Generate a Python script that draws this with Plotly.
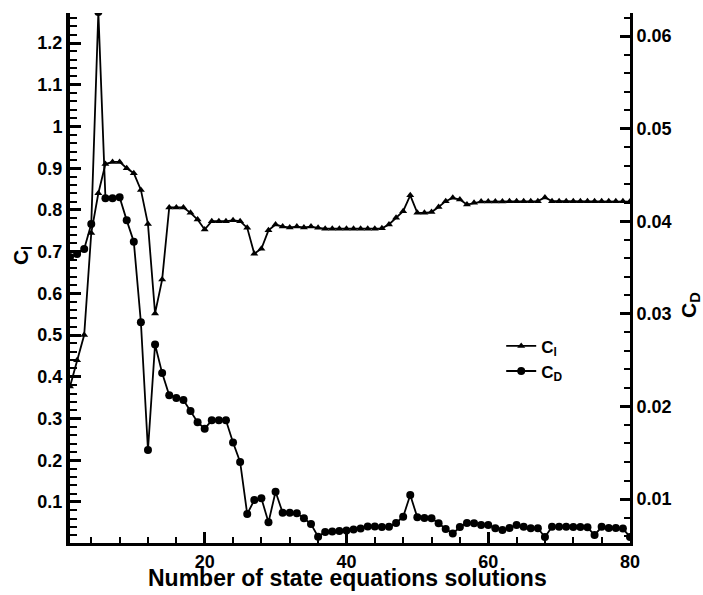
import plotly.graph_objects as go

# ---------------- data ----------------
iterations = list(range(1, 81))

cl_values = [
    0.377, 0.44, 0.50, 0.745, 0.84, 0.91, 0.915, 0.915, 0.90, 0.888,
    0.848, 0.766, 0.552, 0.633, 0.806, 0.806, 0.806, 0.793, 0.777, 0.753,
    0.773, 0.773, 0.773, 0.775, 0.773, 0.757, 0.695, 0.707, 0.751, 0.765,
    0.760, 0.758, 0.760, 0.758, 0.760, 0.757, 0.755, 0.755, 0.755, 0.755,
    0.755, 0.755, 0.755, 0.755, 0.756, 0.765, 0.781, 0.797, 0.835, 0.793,
    0.793, 0.795, 0.807, 0.821, 0.829, 0.825, 0.813, 0.817, 0.820, 0.820,
    0.820, 0.820, 0.821, 0.821, 0.821, 0.821, 0.821, 0.830, 0.821, 0.821,
    0.821, 0.821, 0.821, 0.821, 0.821, 0.821, 0.821, 0.821, 0.821, 0.820,
]

cd_values = [
    0.03613, 0.03646, 0.03700, 0.03970, 0.06260, 0.04250, 0.04250, 0.04260, 0.04010, 0.03780,
    0.02910, 0.01530, 0.02670, 0.02360, 0.02120, 0.02090, 0.02070, 0.01950, 0.01830, 0.01760,
    0.01850, 0.01850, 0.01850, 0.01610, 0.01400, 0.00838, 0.00989, 0.01008, 0.00748, 0.01079,
    0.00852, 0.00852, 0.00846, 0.00792, 0.00730, 0.00593, 0.00644, 0.00650, 0.00654, 0.00660,
    0.00670, 0.00681, 0.00703, 0.00703, 0.00698, 0.00700, 0.00741, 0.00809, 0.01043, 0.00802,
    0.00795, 0.00792, 0.00738, 0.00676, 0.00627, 0.00698, 0.00741, 0.00738, 0.00720, 0.00720,
    0.00684, 0.00665, 0.00687, 0.00720, 0.00700, 0.00684, 0.00684, 0.00590, 0.00700, 0.00700,
    0.00700, 0.00698, 0.00698, 0.00694, 0.00611, 0.00700, 0.00687, 0.00687, 0.00681, 0.00590,
]

x_title = "Number of state equations solutions"
cl_name = "C<sub>l</sub>"
cd_name = "C<sub>D</sub>"

# ---------------- figure ----------------
FONT = "Liberation Sans"

fig = go.Figure()
fig.add_trace(go.Scatter(
    x=iterations, y=cl_values, name=cl_name, mode="lines+markers",
    line=dict(color="black", width=1.8),
    marker=dict(symbol="triangle-up", size=7, color="black"),
))
fig.add_trace(go.Scatter(
    x=iterations, y=cd_values, name=cd_name, mode="lines+markers", yaxis="y2",
    line=dict(color="black", width=1.8),
    marker=dict(symbol="circle", size=8, color="black"),
))

title_font = dict(family=FONT, size=21, color="black", weight="bold")

fig.update_layout(
    width=703, height=595,
    margin=dict(l=70, r=73, t=13, b=52),
    paper_bgcolor="white", plot_bgcolor="white",
    legend=dict(x=0.77, y=0.405, xanchor="left", yanchor="top",
                bgcolor="rgba(0,0,0,0)",
                font=dict(family=FONT, size=17, color="black", weight="bold")),
    xaxis=dict(
        range=[1, 80], dtick=20, automargin=False,
        ticks="inside", ticklen=11, tickwidth=3, tickcolor="black",
        minor=dict(dtick=4, ticks="inside", ticklen=6, tickwidth=2, tickcolor="black"),
        showline=True, linecolor="black", linewidth=3,
        showgrid=False, zeroline=False,
        tickfont=dict(family=FONT, size=18, color="black", weight="bold"),
    ),
    yaxis=dict(
        range=[0.0017, 1.272], dtick=0.1, automargin=False,
        ticks="inside", ticklen=11, tickwidth=3, tickcolor="black",
        minor=dict(dtick=0.02, ticks="inside", ticklen=7, tickwidth=2, tickcolor="black"),
        showline=True, linecolor="black", linewidth=4,
        showgrid=False, zeroline=False,
        tickfont=dict(family=FONT, size=18, color="black", weight="bold"),
    ),
    yaxis2=dict(
        range=[0.00525, 0.0625], dtick=0.01, automargin=False,
        overlaying="y", side="right",
        ticks="inside", ticklen=10, tickwidth=3, tickcolor="black",
        minor=dict(dtick=0.002, ticks="inside", ticklen=6, tickwidth=2, tickcolor="black"),
        showline=True, linecolor="black", linewidth=3,
        showgrid=False, zeroline=False,
        tickfont=dict(family=FONT, size=18, color="black", weight="bold"),
    ),
    annotations=[
        dict(text=x_title, xref="paper", yref="paper", x=0.496, y=-0.066,
             xanchor="center", yanchor="middle", showarrow=False,
             font=dict(family=FONT, size=23, color="black", weight="bold")),
        dict(text=cl_name, xref="paper", yref="paper", x=-0.086, y=0.543,
             xanchor="center", yanchor="middle", showarrow=False, textangle=-90,
             font=title_font),
        dict(text=cd_name, xref="paper", yref="paper", x=1.107, y=0.449,
             xanchor="center", yanchor="middle", showarrow=False, textangle=-90,
             font=title_font),
    ],
)

fig.write_html("out.html")
